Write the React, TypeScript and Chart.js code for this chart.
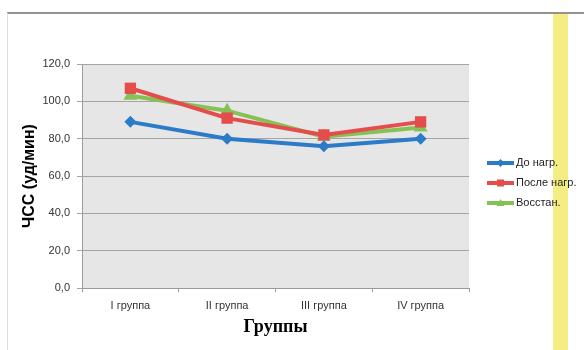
import React, { useEffect, useRef } from "react";
import { Chart, registerables } from "chart.js";

Chart.register(...registerables);

const categories = ["I группа", "II группа", "III группа", "IV группа"];
const seriesNames = ["До нагр.", "После нагр.", "Восстан."];
const beforeLoad = [89, 80, 76, 80];
const afterLoad = [107, 91, 82, 89];
const recovery = [103, 95, 81, 86];
const yMin = 0;
const yMax = 120;
const yStep = 20;
const yTitle = "ЧСС (уд/мин)";
const xTitle = "Группы";

const colors = ["#2b7bc9", "#e54d4d", "#86c155"];
const pointStyles = ["rectRot", "rect", "triangle"];
const pointRadii = [6, 8, 8];

const decorPlugin = {
  id: "decor",
  beforeDraw(chart: any) {
    const { ctx, chartArea } = chart;
    ctx.save();
    ctx.fillStyle = "#f4ed84";
    ctx.fillRect(553, 14, 15, 336);
    ctx.fillStyle = "#e6e6e6";
    ctx.fillRect(chartArea.left, chartArea.top, chartArea.right - chartArea.left, chartArea.bottom - chartArea.top);
    ctx.strokeStyle = "#6e6e6e";
    ctx.lineWidth = 1.5;
    ctx.beginPath();
    ctx.moveTo(7, 13);
    ctx.lineTo(584, 13);
    ctx.stroke();
    ctx.strokeStyle = "#dcdcdc";
    ctx.lineWidth = 1;
    ctx.beginPath();
    ctx.moveTo(7.5, 13);
    ctx.lineTo(7.5, 350);
    ctx.stroke();
    ctx.restore();
  },
  afterDraw(chart: any) {
    const { ctx, chartArea } = chart;
    ctx.save();
    ctx.fillStyle = "#000";
    ctx.textAlign = "center";
    ctx.textBaseline = "middle";
    ctx.font = "bold 18px 'Liberation Serif'";
    ctx.fillText(xTitle, (chartArea.left + chartArea.right) / 2, 327);
    ctx.translate(30, (chartArea.top + chartArea.bottom) / 2);
    ctx.rotate(-Math.PI / 2);
    ctx.font = "bold 16px 'Liberation Sans'";
    ctx.fillText(yTitle, 0, 0);
    ctx.restore();

    ctx.save();
    const ys = [163, 183, 203];
    chart.data.datasets.forEach((ds: any, i: number) => {
      const y = ys[i];
      ctx.strokeStyle = ds.borderColor;
      ctx.lineWidth = 4;
      ctx.beginPath();
      ctx.moveTo(487, y);
      ctx.lineTo(514, y);
      ctx.stroke();
      ctx.fillStyle = ds.borderColor;
      const r = 4;
      ctx.beginPath();
      if (ds.pointStyle === "rectRot") {
        ctx.moveTo(500.5, y - r);
        ctx.lineTo(500.5 + r, y);
        ctx.lineTo(500.5, y + r);
        ctx.lineTo(500.5 - r, y);
      } else if (ds.pointStyle === "rect") {
        ctx.rect(500.5 - 3.5, y - 3.5, 7, 7);
      } else {
        ctx.moveTo(500.5, y - r);
        ctx.lineTo(500.5 + r, y + 3);
        ctx.lineTo(500.5 - r, y + 3);
      }
      ctx.closePath();
      ctx.fill();
      ctx.fillStyle = "#222";
      ctx.font = "11px 'Liberation Sans'";
      ctx.textAlign = "left";
      ctx.textBaseline = "middle";
      ctx.fillText(ds.label, 516, y);
    });
    ctx.restore();
  },
};

export default function App() {
  const ref = useRef<HTMLCanvasElement | null>(null);
  useEffect(() => {
    if (!ref.current) return;
    const series = [beforeLoad, afterLoad, recovery];
    const chart = new Chart(ref.current, {
      type: "line",
      data: {
        labels: categories,
        datasets: series.map((data, i) => ({
          label: seriesNames[i],
          data,
          borderColor: colors[i],
          backgroundColor: colors[i],
          borderWidth: 4,
          pointStyle: pointStyles[i] as any,
          pointRadius: pointRadii[i],
          pointBackgroundColor: colors[i],
          pointBorderColor: colors[i],
          pointBorderWidth: 0,
          tension: 0,
          fill: false,
        })),
      },
      options: {
        animation: false,
        responsive: false,
        maintainAspectRatio: false,
        layout: { padding: { left: 0, top: 64, right: 115, bottom: 0 } },
        plugins: { legend: { display: false }, tooltip: { enabled: false } },
        scales: {
          x: {
            offset: true,
            afterFit: (s: any) => {
              s.height = 62;
            },
            grid: {
              offset: true,
              drawOnChartArea: false,
              drawTicks: true,
              tickLength: 4,
              color: "#9a9a9a",
            },
            border: { color: "#9a9a9a" },
            ticks: {
              color: "#333",
              font: { family: "'Liberation Sans'", size: 11 },
              padding: 7,
            },
          },
          y: {
            min: yMin,
            max: yMax,
            afterFit: (s: any) => {
              s.width = 82;
            },
            grid: { color: "#a5a5a5", tickLength: 5 },
            border: { color: "#9a9a9a" },
            ticks: {
              stepSize: yStep,
              color: "#333",
              font: { family: "'Liberation Sans'", size: 11 },
              padding: 7,
              callback: (v: any) => Number(v).toFixed(1).replace(".", ","),
            },
          },
        },
      },
      plugins: [decorPlugin],
    });
    return () => chart.destroy();
  }, []);
  return (
    <div style={{ position: "fixed", left: 0, top: 0, width: 584, height: 350, background: "#fff" }}>
      <canvas ref={ref} width={584} height={350} style={{ width: 584, height: 350, display: "block" }} />
    </div>
  );
}
